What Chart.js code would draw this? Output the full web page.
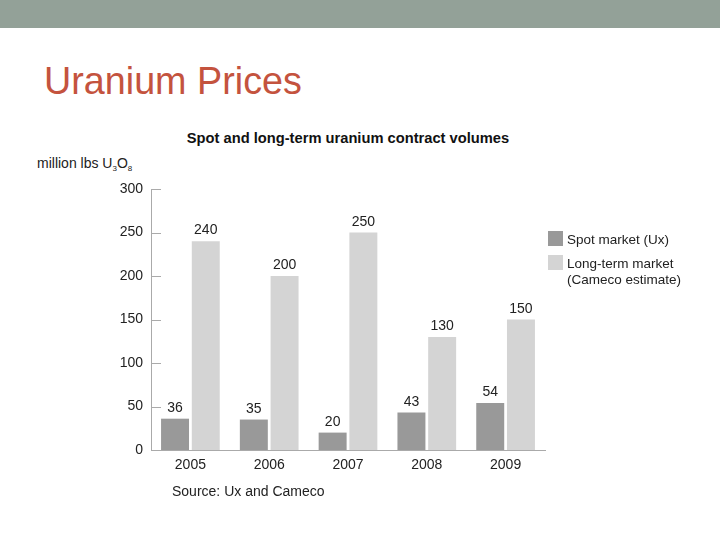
<!DOCTYPE html>
<html>
<head>
<meta charset="utf-8">
<script src="https://cdn.jsdelivr.net/npm/chart.js@4/dist/chart.umd.min.js"></script>
<style>
  html, body { margin: 0; padding: 0; background: #ffffff; }
  #wrap { position: relative; width: 720px; height: 540px; overflow: hidden; font-family: "Liberation Sans", Arial, sans-serif; }
  #band { position: absolute; left: 0; top: 0; width: 720px; height: 28px; background: #93a198; }
  #slideTitle { position: absolute; left: 44px; top: 58px; font-size: 39.5px; color: #c4533e; white-space: nowrap; transform: scaleX(0.955); transform-origin: 0 0; }
  #chartTitle { position: absolute; left: 0; width: 696px; text-align: center; top: 130px; font-size: 14.7px; font-weight: bold; color: #111; white-space: nowrap; }
  #yTitle { position: absolute; left: 37px; top: 155px; font-size: 14px; color: #222; white-space: nowrap; }
  #yTitle sub { font-size: 8px; vertical-align: -3px; }
  #source { position: absolute; left: 172px; top: 483px; font-size: 14px; color: #222; white-space: nowrap; }
  #legend { position: absolute; left: 548px; top: 232px; font-size: 13.5px; color: #222; line-height: 16.5px; }
  .li { position: relative; padding-left: 19px; margin-bottom: 7px; }
  .sw { position: absolute; left: 0; top: -1px; width: 15px; height: 15px; }
  canvas { position: absolute; left: 0; top: 0; }
</style>
</head>
<body>
<div id="wrap">
  <div id="band"></div>
  <div id="slideTitle">Uranium Prices</div>
  <div id="chartTitle">Spot and long-term uranium contract volumes</div>
  <div id="yTitle">million lbs U<sub>3</sub>O<sub>8</sub></div>
  <canvas id="c" width="720" height="540"></canvas>
  <div id="legend"></div>
  <div id="source">Source: Ux and Cameco</div>
</div>
<script>
const categories = ["2005", "2006", "2007", "2008", "2009"];
const spotValues = [36, 35, 20, 43, 54];
const longTermValues = [240, 200, 250, 130, 150];
const seriesNames = ["Spot market (Ux)", "Long-term market\n(Cameco estimate)"];
const seriesColors = ["#999999", "#d4d4d4"];
const yTicks = [0, 50, 100, 150, 200, 250, 300];

const FONT = '"Liberation Sans", Arial, sans-serif';
const AXIS = "#aaaaaa";

const datalabels = {
  id: "datalabels",
  afterDatasetsDraw(chart) {
    const ctx = chart.ctx;
    ctx.save();
    ctx.font = "14px " + FONT;
    ctx.fillStyle = "#222";
    ctx.textAlign = "center";
    ctx.textBaseline = "alphabetic";
    chart.data.datasets.forEach((ds, i) => {
      chart.getDatasetMeta(i).data.forEach((bar, j) => {
        ctx.fillText(String(ds.data[j]), bar.x, bar.y - 7);
      });
    });
    ctx.restore();
  }
};

const innerTicks = {
  id: "innerTicks",
  afterDraw(chart) {
    const s = chart.scales.y;
    const ctx = chart.ctx;
    ctx.save();
    ctx.strokeStyle = AXIS;
    ctx.lineWidth = 1;
    s.ticks.forEach((t, i) => {
      if (t.value === 0) return;
      const y = Math.round(s.getPixelForTick(i)) + 0.5;
      ctx.beginPath();
      ctx.moveTo(s.right, y);
      ctx.lineTo(s.right + 10, y);
      ctx.stroke();
    });
    ctx.restore();
  }
};

new Chart(document.getElementById("c"), {
  type: "bar",
  data: {
    labels: categories,
    datasets: [
      { label: seriesNames[0], data: spotValues, backgroundColor: seriesColors[0] },
      { label: seriesNames[1], data: longTermValues, backgroundColor: seriesColors[1] }
    ]
  },
  options: {
    responsive: false,
    animation: false,
    devicePixelRatio: 1,
    layout: { padding: { left: 0, top: 189, right: 175, bottom: 0 } },
    datasets: { bar: { categoryPercentage: 0.78, barPercentage: 0.91 } },
    plugins: { legend: { display: false }, title: { display: false }, tooltip: { enabled: false } },
    scales: {
      x: {
        grid: { display: false, drawTicks: false },
        border: { display: true, color: AXIS, width: 1 },
        ticks: { color: "#222", font: { family: FONT, size: 14 }, padding: 7 },
        afterFit(scale) { scale.height = 90; }
      },
      y: {
        min: 0, max: 300,
        afterBuildTicks(scale) { scale.ticks = yTicks.map(v => ({ value: v })); },
        grid: { display: false, drawTicks: false },
        border: { display: true, color: AXIS, width: 1 },
        ticks: { color: "#222", font: { family: FONT, size: 14 }, padding: 8 },
        afterFit(scale) { scale.width = 151; }
      }
    }
  },
  plugins: [datalabels, innerTicks]
});

const legend = document.getElementById("legend");
seriesNames.forEach((name, i) => {
  const d = document.createElement("div");
  d.className = "li";
  const sw = document.createElement("span");
  sw.className = "sw";
  sw.style.background = seriesColors[i];
  d.appendChild(sw);
  name.split("\n").forEach((line, k) => {
    if (k) d.appendChild(document.createElement("br"));
    d.appendChild(document.createTextNode(line));
  });
  legend.appendChild(d);
});
</script>
</body>
</html>
